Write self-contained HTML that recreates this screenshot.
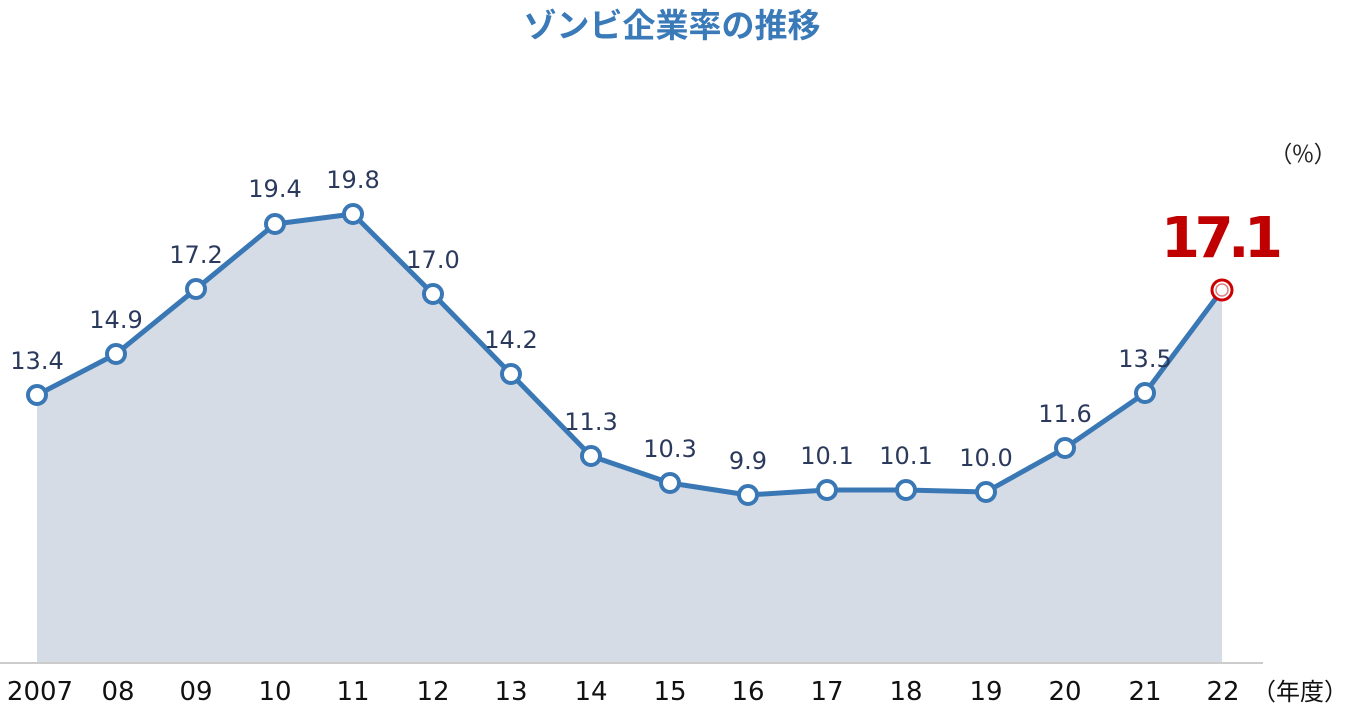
<!DOCTYPE html>
<html><head><meta charset="utf-8"><style>
body{margin:0;background:#fff}
svg text{font-family:"DejaVu Sans","Noto Sans CJK JP",sans-serif}
</style></head><body>
<svg width="1345" height="722" viewBox="0 0 1345 722" xmlns="http://www.w3.org/2000/svg">
<text x="672" y="37" text-anchor="middle" font-size="33" font-weight="bold" fill="#3a7ab8" style="font-family:'Noto Sans CJK JP',sans-serif">ゾンビ企業率の推移</text>
<text x="1303" y="162" text-anchor="middle" font-size="23" fill="#222" style="font-family:'Noto Sans CJK JP',sans-serif">（%）</text>
<polygon fill="#d5dce6" points="37,663 37,395 116,354 196,289 275,224 353,214 433,294 511,374 591,456 670,483 748,495 827,490 906,490 986,492 1065,448 1145,393 1222,290 1222,663"/>
<line x1="0" y1="663" x2="1263" y2="663" stroke="#ccc" stroke-width="2"/>
<polyline fill="none" stroke="#3a78b5" stroke-width="5" stroke-linejoin="round" points="37,395 116,354 196,289 275,224 353,214 433,294 511,374 591,456 670,483 748,495 827,490 906,490 986,492 1065,448 1145,393 1222,290"/>
<g fill="#fff" stroke="#3a78b5" stroke-width="4">
<circle cx="37" cy="395" r="9"/><circle cx="116" cy="354" r="9"/><circle cx="196" cy="289" r="9"/><circle cx="275" cy="224" r="9"/><circle cx="353" cy="214" r="9"/><circle cx="433" cy="294" r="9"/><circle cx="511" cy="374" r="9"/><circle cx="591" cy="456" r="9"/><circle cx="670" cy="483" r="9"/><circle cx="748" cy="495" r="9"/><circle cx="827" cy="490" r="9"/><circle cx="906" cy="490" r="9"/><circle cx="986" cy="492" r="9"/><circle cx="1065" cy="448" r="9"/><circle cx="1145" cy="393" r="9"/>
</g>
<circle cx="1222" cy="290" r="10" fill="#fff" stroke="#c00" stroke-width="3"/>
<circle cx="1222" cy="290" r="6" fill="#fff" stroke="#e08080" stroke-width="1.5"/>
<g font-size="24" fill="#2b3a5c" text-anchor="middle">
<text x="37" y="369">13.4</text><text x="116" y="328">14.9</text><text x="196" y="263">17.2</text><text x="275" y="197">19.4</text><text x="353" y="188">19.8</text><text x="433" y="268">17.0</text><text x="511" y="348">14.2</text><text x="591" y="430">11.3</text><text x="670" y="457">10.3</text><text x="748" y="469">9.9</text><text x="827" y="464">10.1</text><text x="906" y="464">10.1</text><text x="986" y="466">10.0</text><text x="1065" y="422">11.6</text><text x="1145" y="367">13.5</text>
</g>
<text x="1222" y="257" text-anchor="middle" font-size="56" font-weight="600" fill="#c00000" textLength="122">17.1</text>
<g font-size="26" fill="#111" text-anchor="middle">
<text x="40" y="700">2007</text><text x="118" y="700">08</text><text x="196" y="700">09</text><text x="275" y="700">10</text><text x="353" y="700">11</text><text x="433" y="700">12</text><text x="511" y="700">13</text><text x="591" y="700">14</text><text x="670" y="700">15</text><text x="748" y="700">16</text><text x="827" y="700">17</text><text x="906" y="700">18</text><text x="986" y="700">19</text><text x="1065" y="700">20</text><text x="1145" y="700">21</text><text x="1223" y="700">22</text>
</g>
<text x="1300" y="700" text-anchor="middle" font-size="24" fill="#111" style="font-family:'Noto Sans CJK JP',sans-serif">（年度）</text>
</svg>
</body></html>
